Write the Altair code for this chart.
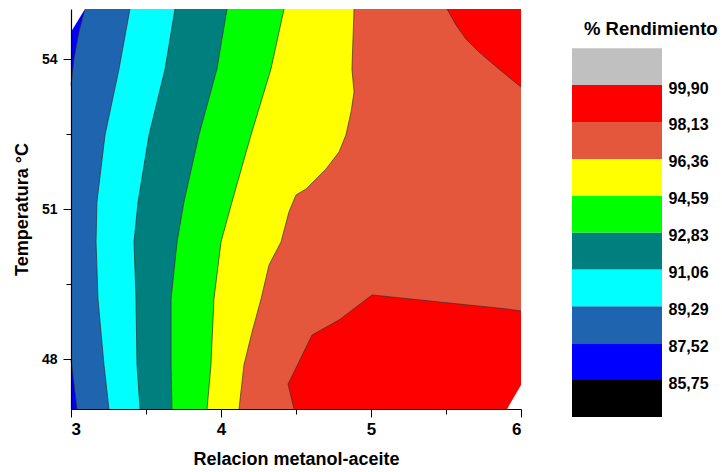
import altair as alt
import pandas as pd

# Contour levels of the yield surface (% Rendimiento) and the colour of each band,
# from the lowest band (below 85,75) to the highest (above 99,90).
levels = [85.75, 87.52, 89.29, 91.06, 92.83, 94.59, 96.36, 98.13, 99.90]
band_low = [83.98, 85.75, 87.52, 89.29, 91.06, 92.83, 94.59, 96.36, 98.13, 99.90]
band_high = [85.75, 87.52, 89.29, 91.06, 92.83, 94.59, 96.36, 98.13, 99.90, 101.67]
band_colors = ["#000000", "#0000FF", "#1F64AF", "#00FFFF", "#007F7F",
               "#00FF00", "#FFFF00", "#E4573C", "#FF0000", "#C0C0C0"]

# Iso-yield lines that cross the whole temperature range: methanol:oil ratio at each temperature
temp_a = [55, 53.8, 52.48, 51.14, 50.34, 49.2, 47.88, 47]
iso_8929 = [3.393, 3.32, 3.227, 3.173, 3.167, 3.18, 3.22, 3.253]
iso_9106 = [3.693, 3.627, 3.52, 3.447, 3.42, 3.433, 3.44, 3.46]
iso_9283 = [4.04, 3.973, 3.853, 3.753, 3.707, 3.667, 3.667, 3.673]
iso_9459 = [4.42, 4.333, 4.2, 4.073, 4.0, 3.953, 3.933, 3.907]
temp_b = [55, 53.8, 53.34, 52.94, 52.48, 52.14, 51.8, 51.4, 51.28, 50.94,
          50.34, 49.88, 49.2, 48.54, 47.88, 47]
iso_9636 = [4.887, 4.873, 4.887, 4.867, 4.833, 4.787, 4.7, 4.567, 4.5, 4.453,
            4.4, 4.32, 4.267, 4.207, 4.153, 4.12]

# 87,52 iso-line: two small low-yield pockets on the left edge
blue_top_temp = [55, 54.54, 54.0, 53.48]
blue_top_ratio = [3.093, 3.053, 3.02, 3.0]
blue_bot_temp = [48.0, 47]
blue_bot_ratio = [3.0, 3.04]

# 98,13 iso-line: high-yield zones at the upper right and the lower right
red_top_ratio = [5.507, 5.567, 5.633, 5.72, 5.853, 6.0]
red_top_temp = [55, 54.68, 54.4, 54.14, 53.8, 53.44]
red_low_ratio = [4.447, 4.487, 4.607, 4.787, 5.007, 5.52, 5.907, 6.0]
red_low_upper = [47.5, 47.74, 48.48, 48.78, 49.28, 49.12, 49.0, 48.96]
red_low_lower = [47.5, 47, 47, 47, 47, 47, 47, 47]

# Corners left uncovered by the fitted surface
hull_tl_temp = [55, 54.54]
hull_tl_ratio = [3.093, 3.0]
hull_br_ratio = [5.907, 6.0]
hull_br_temp = [47, 47.48]

FONT = "Liberation Sans"
X_MIN, X_MAX, T_MIN, T_MAX = 3.0, 6.0, 47.0, 55.0

xscale = alt.Scale(domain=[X_MIN, X_MAX], nice=False, zero=False)
yscale = alt.Scale(domain=[T_MIN, T_MAX], nice=False, zero=False)
xtitle = "Relacion metanol-aceite"
ytitle = "Temperatura °C"

xaxis = alt.Axis(
    values=[3, 3.5, 4, 4.5, 5, 5.5, 6],
    labelExpr="datum.value % 1 ? '' : format(datum.value, 'd')",
    tickSize={"condition": {"test": "datum.value % 1 != 0", "value": 5}, "value": 8},
    grid=False, zindex=1, domainColor="black", tickColor="black", domainWidth=1.2,
    labelFont=FONT, labelFontSize=17, labelFontWeight="bold", labelColor="black",
    labelPadding=4, titleFont=FONT, titleFontSize=18, titleFontWeight="bold",
    titleColor="black", titlePadding=13,
)
yaxis = alt.Axis(
    values=[48, 49.5, 51, 52.5, 54],
    labelExpr="datum.value % 3 ? '' : format(datum.value, 'd')",
    tickSize={"condition": {"test": "datum.value % 3 != 0", "value": 5}, "value": 8},
    grid=False, zindex=1, domainColor="black", tickColor="black", domainWidth=1.2,
    labelFont=FONT, labelFontSize=14, labelFontWeight="bold", labelColor="black",
    labelPadding=6, titleFont=FONT, titleFontSize=18, titleFontWeight="bold",
    titleColor="black", titlePadding=10,
)


def X(field="ratio"):
    return alt.X(f"{field}:Q", scale=xscale, axis=xaxis, title=xtitle)


def Y(field="temp"):
    return alt.Y(f"{field}:Q", scale=yscale, axis=yaxis, title=ytitle)


def left_band(temps, ratios, color):
    """Area between the left edge of the plot and an iso-line x(T)."""
    df = pd.DataFrame({"temp": temps, "ratio": ratios, "ratio2": X_MIN})
    return alt.Chart(df).mark_area(orient="horizontal", color=color, opacity=1).encode(
        y=Y(), x=X(), x2="ratio2:Q")


def vertical_patch(ratios, lower, upper, color):
    df = pd.DataFrame({"ratio": ratios, "temp": lower, "temp2": upper})
    return alt.Chart(df).mark_area(orient="vertical", color=color, opacity=1).encode(
        x=X(), y=Y(), y2="temp2:Q")


def iso_line(ratios, temps):
    df = pd.DataFrame({"ratio": ratios, "temp": temps, "seq": range(len(ratios))})
    return alt.Chart(df).mark_line(color="#3a2a2a", strokeWidth=0.8, opacity=0.85).encode(
        x=X(), y=Y(), order="seq:Q")


base = alt.Chart(pd.DataFrame({"ratio": [X_MIN], "ratio2": [X_MAX],
                               "temp": [T_MIN], "temp2": [T_MAX]})).mark_rect(
    color=band_colors[7]).encode(x=X(), x2="ratio2:Q", y=Y(), y2="temp2:Q")

layers = [
    base,
    left_band(temp_b, iso_9636, band_colors[6]),
    left_band(temp_a, iso_9459, band_colors[5]),
    left_band(temp_a, iso_9283, band_colors[4]),
    left_band(temp_a, iso_9106, band_colors[3]),
    left_band(temp_a, iso_8929, band_colors[2]),
    left_band(blue_top_temp, blue_top_ratio, band_colors[1]),
    left_band(blue_bot_temp, blue_bot_ratio, band_colors[1]),
    vertical_patch(red_top_ratio, red_top_temp, [T_MAX] * len(red_top_ratio), band_colors[8]),
    vertical_patch(red_low_ratio, red_low_lower, red_low_upper, band_colors[8]),
    iso_line(iso_9636, temp_b),
    iso_line(iso_9459, temp_a),
    iso_line(iso_9283, temp_a),
    iso_line(iso_9106, temp_a),
    iso_line(iso_8929, temp_a),
    iso_line(blue_top_ratio, blue_top_temp),
    iso_line(blue_bot_ratio, blue_bot_temp),
    iso_line(red_top_ratio, red_top_temp),
    iso_line(red_low_ratio, red_low_upper),
    iso_line(red_low_ratio[:2], red_low_lower[:2]),
    left_band(hull_tl_temp, hull_tl_ratio, "white"),
    vertical_patch(hull_br_ratio, [T_MIN] * 2, hull_br_temp, "white"),
]

contour = alt.layer(*layers).properties(width=450, height=400)

# Colour key: one swatch per band, labels at the iso-levels
key_df = pd.DataFrame({"low": band_low, "high": band_high, "color": band_colors,
                       "a": 0, "b": 1})
key_scale = alt.Scale(domain=[83.98, 103.55], nice=False, zero=False)
key_axis = alt.Axis(
    orient="right", values=levels,
    labelExpr="replace(format(datum.value, '.2f'), '.', ',')",
    ticks=False, tickSize=0, domain=False, grid=False,
    labelFont=FONT, labelFontSize=16, labelFontWeight="bold", labelColor="black",
    labelPadding=6, labelOffset=3, labelBaseline="middle",
)
swatches = alt.Chart(key_df).mark_rect().encode(
    x=alt.X("a:Q", scale=alt.Scale(domain=[0, 1]), axis=None),
    x2="b:Q",
    y=alt.Y("low:Q", scale=key_scale, axis=key_axis, title=None),
    y2="high:Q",
    color=alt.Color("color:N", scale=None),
)
key_title = alt.Chart(pd.DataFrame({"t": ["% Rendimiento"]})).mark_text(
    align="left", baseline="alphabetic", font=FONT, fontSize=18.5,
    fontWeight="bold", color="black",
).encode(text="t:N", x=alt.value(12), y=alt.value(26))

key = alt.layer(swatches, key_title).properties(width=90, height=408)

chart = alt.hconcat(contour, key, spacing=49).configure_view(stroke=None).properties(
    padding={"left": 13, "top": 7, "right": 0, "bottom": 0}
)

chart.save("out.html", embed_options={"renderer": "svg", "actions": False})
